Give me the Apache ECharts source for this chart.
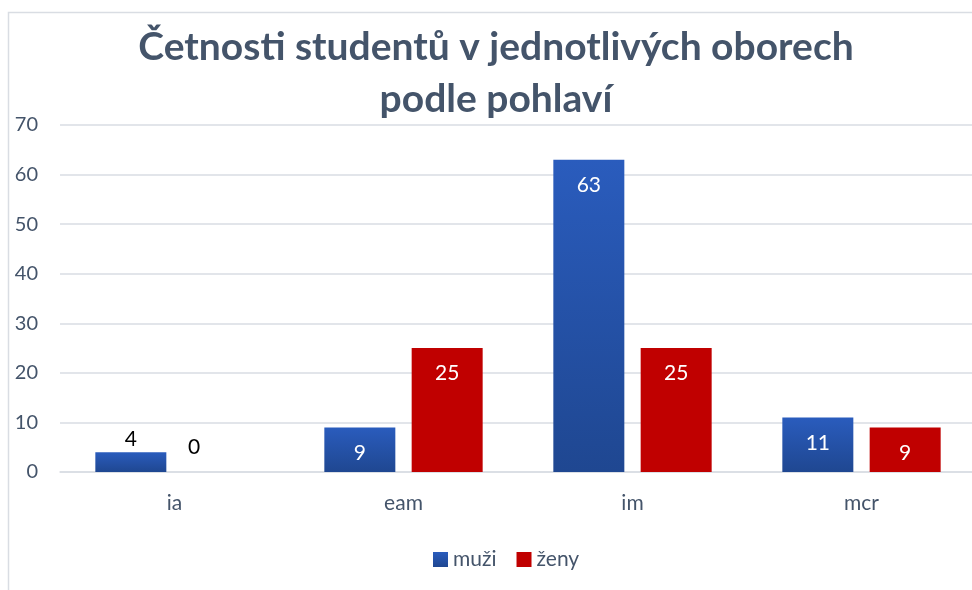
<!DOCTYPE html>
<html>
<head>
<meta charset="utf-8">
<script src="https://cdn.jsdelivr.net/npm/echarts@6/dist/echarts.min.js"></script>
<style>
  html, body { margin: 0; padding: 0; background: #fff; }
  #chart { width: 972px; height: 590px; }
</style>
</head>
<body>
<div id="chart"></div>
<script>
const categories = ['ia', 'eam', 'im', 'mcr']
const muzi = [4, 9, 63, 11]
const zeny = [0, 25, 25, 9]
const yTicks = [0, 10, 20, 30, 40, 50, 60, 70]

const font = 'Lato, "Open Sans", sans-serif'
const slate = '#44546a'

// small bars don't fit their label inside, Excel puts those above in black
function labelFor(v) {
  if (v === 0) {
    return { position: 'top', color: '#000', distance: 14, offset: [-24, 0] }
  }
  if (v < 6) {
    return { position: 'top', color: '#000', distance: 2 }
  }
  return {}
}

const chart = echarts.init(document.getElementById('chart'))

chart.setOption({
  backgroundColor: '#fff',
  animation: false,
  graphic: [
    {
      type: 'rect',
      shape: { x: 8.5, y: 12.5, width: 1000, height: 700 },
      style: { fill: 'none', stroke: '#d9dde3', lineWidth: 1.5 },
      silent: true,
    },
  ],
  title: {
    text: 'Četnosti studentů v jednotlivých oborech\npodle pohlaví',
    left: 491,
    textAlign: 'center',
    top: 16,
    textStyle: {
      fontFamily: font,
      fontWeight: 'bold',
      fontSize: 39,
      lineHeight: 52,
      color: slate,
    },
  },
  legend: {
    data: ['muži', 'ženy'],
    bottom: 15,
    left: 428,
    itemWidth: 15,
    itemHeight: 15,
    itemGap: 20,
    icon: 'rect',
    textStyle: { fontFamily: font, fontSize: 21, color: slate },
  },
  grid: { left: 60, top: 125, width: 916, height: 347, outerBoundsMode: 'none' },
  xAxis: {
    type: 'category',
    data: categories,
    axisTick: { show: false },
    axisLine: { lineStyle: { color: '#d9dde3', width: 1.5 } },
    axisLabel: { fontFamily: font, fontSize: 21, color: slate, margin: 21 },
  },
  yAxis: {
    type: 'value',
    min: yTicks[0],
    max: yTicks[yTicks.length - 1],
    interval: 10,
    axisLine: { show: false },
    axisTick: { show: false },
    splitLine: { lineStyle: { color: '#d9dde3', width: 1.5 } },
    axisLabel: { fontFamily: font, fontSize: 20, color: slate, margin: 22 },
  },
  series: [
    {
      name: 'muži',
      type: 'bar',
      barWidth: 71,
      barGap: '23%',
      itemStyle: {
        color: new echarts.graphic.LinearGradient(0, 0, 0, 1, [
          { offset: 0, color: '#2a5cbd' },
          { offset: 1, color: '#1f4791' },
        ]),
      },
      label: {
        show: true,
        position: 'insideTop',
        distance: 15,
        color: '#fff',
        fontFamily: font,
        fontSize: 21,
      },
      data: muzi.map((v) => ({ value: v, label: labelFor(v) })),
    },
    {
      name: 'ženy',
      type: 'bar',
      barWidth: 71,
      itemStyle: { color: '#c00000' },
      label: {
        show: true,
        position: 'insideTop',
        distance: 15,
        color: '#fff',
        fontFamily: font,
        fontSize: 21,
      },
      data: zeny.map((v) => ({ value: v, label: labelFor(v) })),
    },
  ],
})
</script>
</body>
</html>
